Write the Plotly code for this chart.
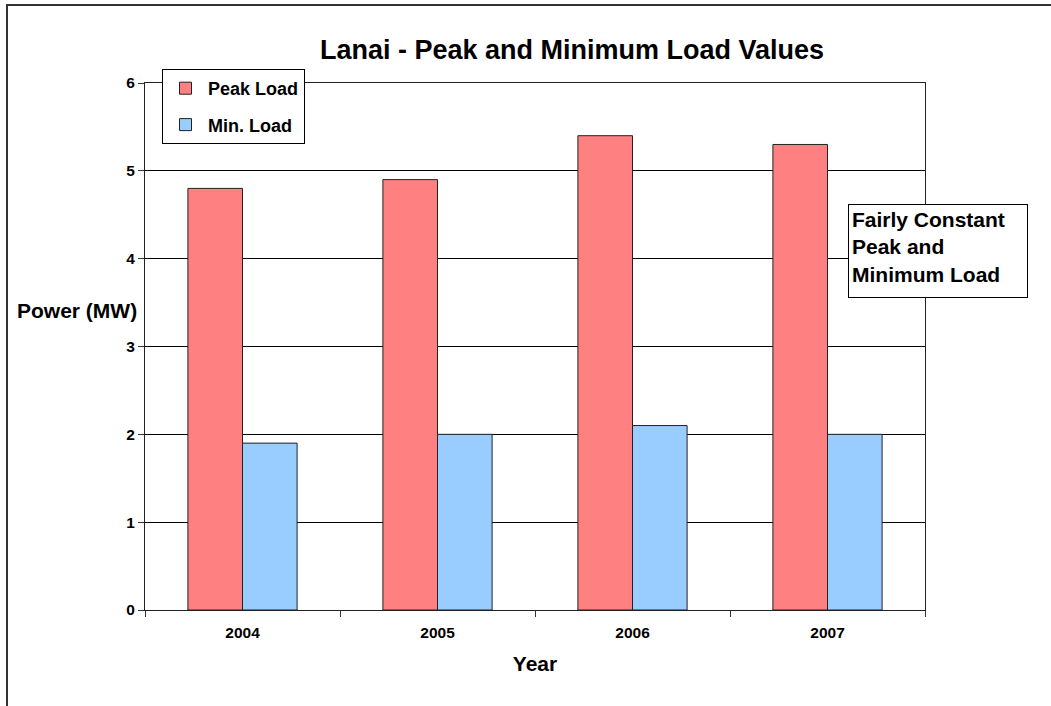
import plotly.graph_objects as go

# Annual peak and minimum load on Lanai (MW)
years = ["2004", "2005", "2006", "2007"]
peak_load = [4.8, 4.9, 5.4, 5.3]
min_load = [1.9, 2.0, 2.1, 2.0]

FONT = "Liberation Sans, Arial, sans-serif"
L, R, T, B = 145, 126, 83, 96
W, H = 1051, 706
PW, PH = W - L - R, H - T - B


def px_to_paper_x(px):
    return (px - L) / PW


def px_to_paper_y(py):
    return (H - B - py) / PH


fig = go.Figure()
fig.add_trace(go.Bar(
    x=years, y=peak_load, name="<b>Peak Load</b>", legendgroup="a",
    marker=dict(color="#FF8080", line=dict(color="#222222", width=1)),
))
fig.add_trace(go.Bar(
    x=years, y=min_load, name="<b>Min. Load</b>", legendgroup="b",
    marker=dict(color="#99CCFF", line=dict(color="#222222", width=1)),
))

fig.update_layout(
    width=W, height=H,
    margin=dict(l=L, r=R, t=T, b=B),
    paper_bgcolor="white", plot_bgcolor="white",
    barmode="group", bargap=0.44, bargroupgap=0,
    font=dict(family=FONT, color="black"),
    title=dict(text="<b>Lanai - Peak and Minimum Load Values</b>",
               x=px_to_paper_x(572), xref="paper", xanchor="center",
               y=1 - 50 / H, yanchor="middle",
               font=dict(size=27, family=FONT)),
    showlegend=True,
    legend=dict(
        x=px_to_paper_x(162), y=px_to_paper_y(69), xanchor="left", yanchor="top",
        bordercolor="black", borderwidth=1, bgcolor="white",
        font=dict(size=18, family=FONT), traceorder="grouped", tracegroupgap=10,
        itemwidth=35,
    ),
    xaxis=dict(
        type="category", tickson="boundaries", ticks="outside", ticklen=6,
        tickcolor="#333333", showline=True, linecolor="#222222", linewidth=1,
        mirror=True, showgrid=False,
        tickfont=dict(size=15.5, family=FONT),
        tickprefix="<b>", ticksuffix="</b>", ticklabelstandoff=8,
        title=dict(text="<b>Year</b>", font=dict(size=21, family=FONT), standoff=16),
    ),
    yaxis=dict(
        range=[0, 6], dtick=1, ticks="outside", ticklen=6, tickcolor="#333333",
        showline=True, linecolor="#222222", linewidth=1, mirror=True,
        showgrid=True, gridcolor="black", gridwidth=1,
        tickfont=dict(size=15.5, family=FONT),
        tickprefix="<b>", ticksuffix="</b>",
        zeroline=False,
    ),
)

# vertical axis label drawn horizontally to the left of the plot
fig.add_annotation(
    text="<b>Power (MW)</b>", xref="paper", yref="paper",
    x=px_to_paper_x(77), y=px_to_paper_y(310), xanchor="center", yanchor="middle",
    showarrow=False, font=dict(size=21, family=FONT),
)

# note box on the right
fig.add_annotation(
    text="<b>Fairly Constant<br>Peak and<br>Minimum Load</b>",
    xref="paper", yref="paper", align="left", valign="top",
    x=px_to_paper_x(848), y=px_to_paper_y(204), xanchor="left", yanchor="top",
    showarrow=False, font=dict(size=21, family=FONT),
    bordercolor="black", borderwidth=1, bgcolor="white", borderpad=3,
    width=172, height=86,
)

# outer chart frame
fig.add_shape(
    type="rect", xref="paper", yref="paper",
    x0=px_to_paper_x(7), y0=px_to_paper_y(720),
    x1=px_to_paper_x(1070), y1=px_to_paper_y(5),
    line=dict(color="#333333", width=2), layer="below",
)

fig.write_html("out.html")
